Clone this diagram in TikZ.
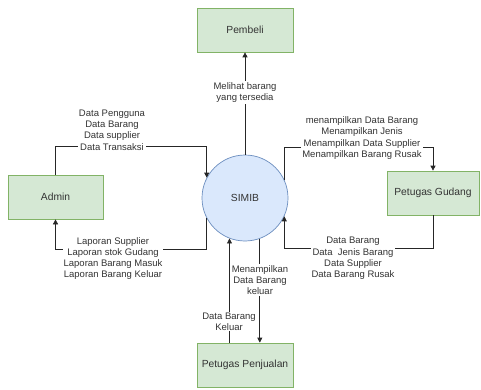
\documentclass[tikz,border=0pt]{standalone}
\usepackage{fontspec}
\setmainfont{Liberation Sans}
\usetikzlibrary{arrows.meta}
\definecolor{gfill}{HTML}{D5E8D4}
\definecolor{gdraw}{HTML}{82B366}
\definecolor{bfill}{HTML}{DAE8FC}
\definecolor{bdraw}{HTML}{6C8EBF}
\definecolor{txt}{HTML}{333333}
\begin{document}
\begin{tikzpicture}[x=1pt,y=-1pt,
  ent/.style={draw=gdraw, fill=gfill, line width=0.7pt, minimum height=44pt,
    inner sep=0pt, text=txt, font=\fontsize{10.3}{12}\selectfont},
  proc/.style={circle, draw=bdraw, fill=bfill, line width=0.7pt, minimum size=86pt,
    inner sep=0pt, text=txt, font=\fontsize{10.3}{12}\selectfont},
  lbl/.style={fill=white, inner sep=1pt, align=center, text=txt,
    font=\fontsize{9.5}{11.3}\selectfont},
  flow/.style={draw=black!85, line width=0.7pt, -{Triangle[length=5pt,width=5pt]}}]
\useasboundingbox (0,0) rectangle (481,390);

\node[ent, minimum width=96pt] (pembeli) at (245,30) {Pembeli};
\node[ent, minimum width=95pt] (admin) at (55.5,197) {Admin};
\node[ent, minimum width=92pt] (gudang) at (433,193) {Petugas Gudang};
\node[ent, minimum width=96pt] (penjualan) at (245,365) {Petugas Penjualan};
\node[proc] (simib) at (245,198) {SIMIB};

% SIMIB -> Pembeli
\draw[flow] (simib.north) -- (pembeli.south);
\node[lbl] (l1) at (245,92.5) {Melihat barang\\yang tersedia};

% Admin -> SIMIB
\draw[flow] (admin.north) |- (simib.152 |- 0,146) -- (simib.152);
\node[lbl] (l2) at (112,130) {Data Pengguna\\Data Barang\\Data supplier\\Data Transaksi};

% SIMIB -> Admin
\draw[flow] (simib.208) -- (simib.208 |- 0,249) -| (admin.south);
\node[lbl] (l3) at (113,258.5) {Laporan Supplier\\Laporan stok Gudang\\Laporan Barang Masuk\\Laporan Barang Keluar};

% SIMIB -> Gudang
\draw[flow] (simib.25) -- (simib.25 |- 0,147) -| (gudang.north);
\node[lbl] (l4) at (362,138) {menampilkan Data Barang\\Menampilkan Jenis\\Menampilkan Data Supplier\\Menampilkan Barang Rusak};

% Gudang -> SIMIB
\draw[flow] (gudang.south) |- (simib.-25 |- 0,248) -- (simib.-25);
\node[lbl] (l5) at (353,258.5) {Data Barang\\Data\ \ Jenis Barang\\Data Supplier\\Data Barang Rusak};

% Penjualan -> SIMIB
\draw[flow] (penjualan.north -| simib.249.6) -- (simib.249.6);
\node[lbl] (l6) at (229,321.5) {Data Barang\\Keluar};

% SIMIB -> Penjualan
\draw[flow] (simib.290.4) -- (penjualan.north -| simib.290.4);
\node[lbl] (l7) at (260,280) {Menampilkan\\Data Barang\\keluar};
\end{tikzpicture}
\end{document}
